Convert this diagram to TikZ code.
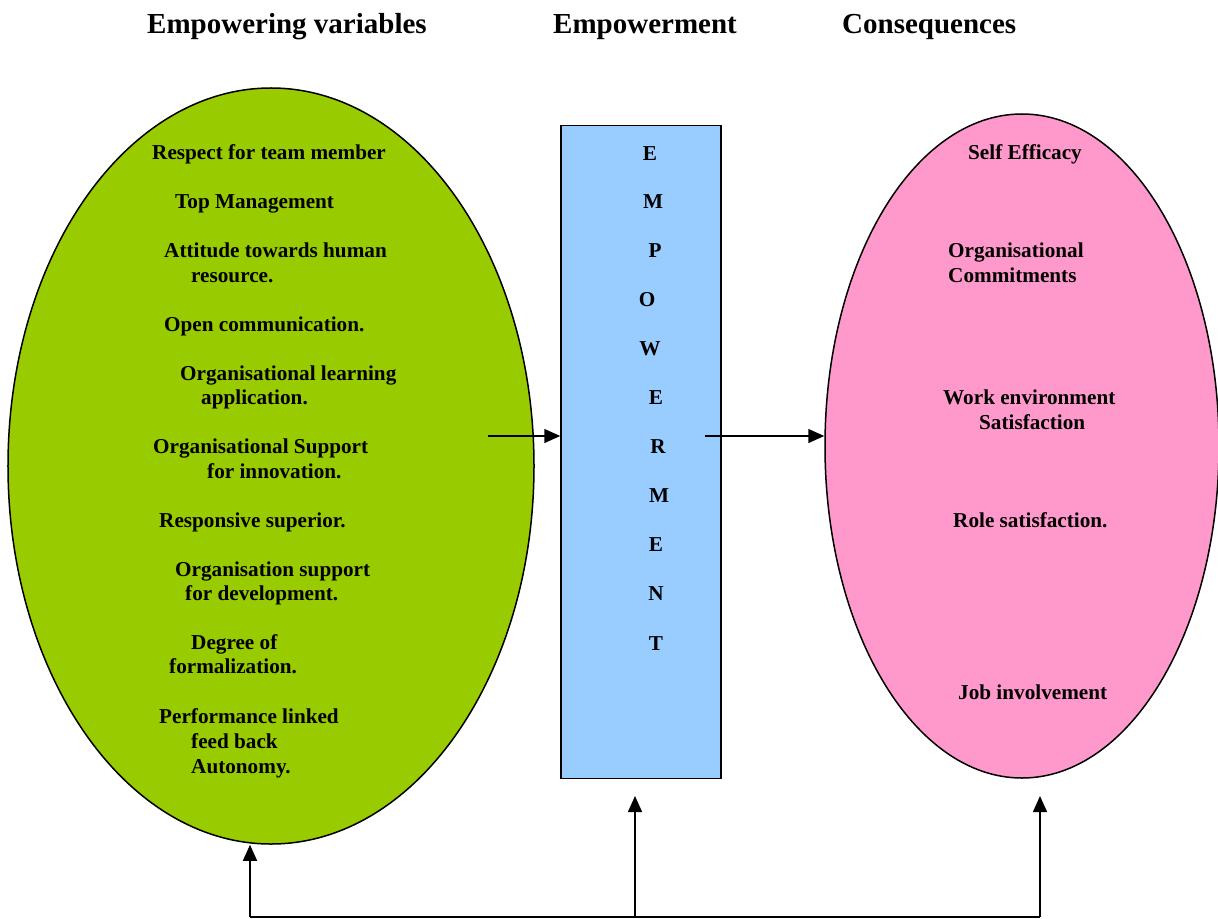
\documentclass[tikz,border=0pt]{standalone}
\usepackage{fontspec}
\setmainfont{Liberation Serif}
\usetikzlibrary{shapes.geometric,arrows.meta}
\definecolor{vargreen}{HTML}{99CC00}
\definecolor{empblue}{HTML}{99CCFF}
\definecolor{conpink}{HTML}{FF99CC}
\tikzset{
  bodytxt/.style={anchor=base west,inner sep=0pt,font=\fontsize{21.2bp}{25bp}\selectfont\bfseries},
  headtxt/.style={anchor=base west,inner sep=0pt,font=\fontsize{29bp}{32bp}\selectfont\bfseries},
  lettertxt/.style={anchor=base,inner sep=0pt,font=\fontsize{21.2bp}{25bp}\selectfont\bfseries},
  blob/.style={ellipse,draw=black,line width=1.5bp,inner sep=0pt},
  conn/.style={line width=1.5bp,-{Triangle[length=16bp,width=14bp]}},
  plainline/.style={line width=1.5bp}
}
\begin{document}
\begin{tikzpicture}[x=1bp,y=-1bp]
\useasboundingbox (0,0) rectangle (1218,919);
% headings
\node[headtxt] (h1) at (147,33) {Empowering variables};
\node[headtxt] (h2) at (553,33) {Empowerment};
\node[headtxt] (h3) at (842,33) {Consequences};
% shapes
\node[blob,fill=vargreen,minimum width=526bp,minimum height=756bp] (lell) at (271,466) {};
\node[draw=black,line width=1.5bp,fill=empblue,minimum width=160bp,minimum height=653bp,inner sep=0pt] (rect) at (641,452) {};
\node[blob,fill=conpink,minimum width=394bp,minimum height=664bp] (rell) at (1022,446) {};
% left texts
\node[bodytxt] (l1) at (152,159) {Respect for team member};
\node[bodytxt] (l2) at (175,208) {Top Management};
\node[bodytxt] (l3a) at (164,257) {Attitude towards human};
\node[bodytxt] (l3b) at (191,282) {resource.};
\node[bodytxt] (l4) at (164,331) {Open communication.};
\node[bodytxt] (l5a) at (180,380) {Organisational learning};
\node[bodytxt] (l5b) at (201,404) {application.};
\node[bodytxt] (l6a) at (153,453) {Organisational Support};
\node[bodytxt] (l6b) at (207,478) {for innovation.};
\node[bodytxt] (l7) at (159,527) {Responsive superior.};
\node[bodytxt] (l8a) at (175,576) {Organisation support};
\node[bodytxt] (l8b) at (185,600) {for development.};
\node[bodytxt] (l9a) at (191,649) {Degree of};
\node[bodytxt] (l9b) at (169,673) {formalization.};
\node[bodytxt] (l10a) at (159,723) {Performance linked};
\node[bodytxt] (l10b) at (191,748) {feed back};
\node[bodytxt] (l10c) at (191,773) {Autonomy.};
% letters
\node[lettertxt] (e1) at (650,160) {E};
\node[lettertxt] (e2) at (653,208) {M};
\node[lettertxt] (e3) at (655,257) {P};
\node[lettertxt] (e4) at (647,306) {O};
\node[lettertxt] (e5) at (650,355) {W};
\node[lettertxt] (e6) at (656,404) {E};
\node[lettertxt] (e7) at (658,453) {R};
\node[lettertxt] (e8) at (659,502) {M};
\node[lettertxt] (e9) at (656,551) {E};
\node[lettertxt] (e10) at (656,600) {N};
\node[lettertxt] (e11) at (656,650) {T};
% right texts
\node[bodytxt] (r1) at (968,159) {Self Efficacy};
\node[bodytxt] (r2a) at (948,257) {Organisational};
\node[bodytxt] (r2b) at (948,282) {Commitments};
\node[bodytxt] (r3a) at (943,404) {Work environment};
\node[bodytxt] (r3b) at (979,429) {Satisfaction};
\node[bodytxt] (r4) at (953,527) {Role satisfaction.};
\node[bodytxt] (r5) at (958,699) {Job involvement};
% connectors
\coordinate (a1) at (488,436);
\coordinate (a2) at (705,436);
\draw[conn] (a1) -- (a1 -| rect.west);
\draw[conn] (a2) -- (a2 -| rell.west);
\coordinate (b1) at (250,917);
\coordinate (b2) at (635,917);
\coordinate (b3) at (1040,917);
\coordinate (t2) at (635,796);
\coordinate (t3) at (1040,796);
\draw[plainline] (b1) -- (b3);
\draw[conn] (b1) -- (b1 |- lell.south);
\draw[conn] (b2) -- (t2);
\draw[conn] (b3) -- (t3);
\end{tikzpicture}
\end{document}
